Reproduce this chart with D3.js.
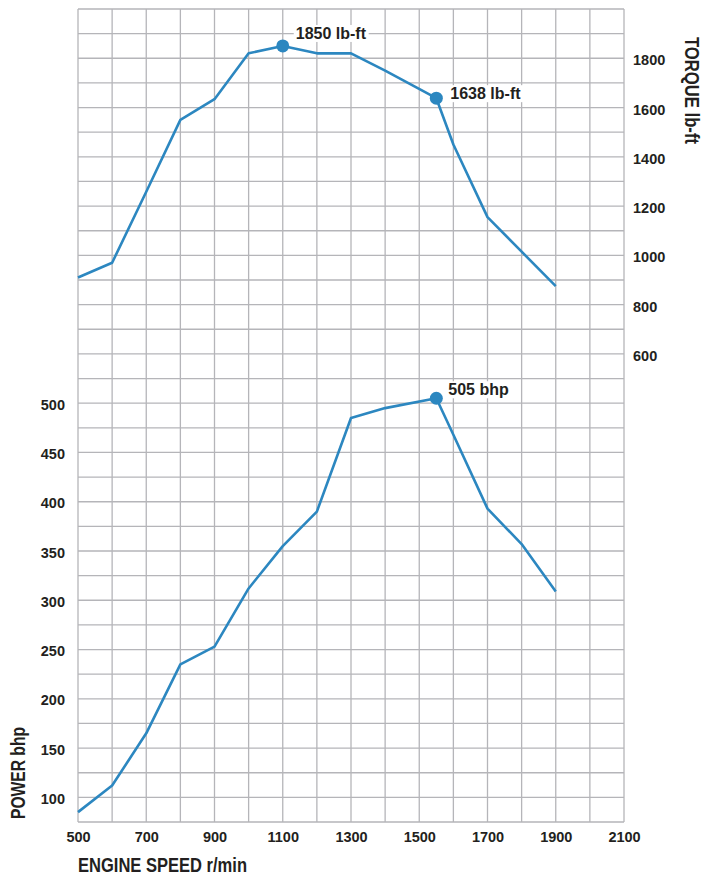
<!DOCTYPE html>
<html lang="en">
<head>
    <meta charset="UTF-8">
    <title>Engine torque and power curves</title>
    <script src="https://d3js.org/d3.v7.min.js"></script>
    <style>
        body { margin: 0; background: #fff; }
        svg text { font-family: "Liberation Sans", Arial, Helvetica, sans-serif; fill: #231f20; font-weight: bold; }
    </style>
</head>
<body>
    <script>
        // data
        const rpm    = [500, 600, 700, 800, 900, 1000, 1100, 1200, 1300, 1400, 1550, 1600, 1700, 1800, 1900];
        const torque = [910, 970, 1258, 1550, 1634, 1820, 1850, 1820, 1820, 1750, 1638, 1450, 1155, 1015, 875];
        const power  = [85, 112, 165, 235, 253, 312, 355, 390, 485, 495, 505, 468, 393, 357, 309];

        const rpmTicks    = [500, 700, 900, 1100, 1300, 1500, 1700, 1900, 2100];
        const torqueTicks = [600, 800, 1000, 1200, 1400, 1600, 1800];
        const powerTicks  = [100, 150, 200, 250, 300, 350, 400, 450, 500];

        const torquePeaks = [{ rpm: 1100, value: 1850, label: "1850 lb-ft" }, { rpm: 1550, value: 1638, label: "1638 lb-ft" }];
        const powerPeaks  = [{ rpm: 1550, value: 505, label: "505 bhp" }];

        const width = 703, height = 877;
        const plotL = 78, plotR = 624, plotT = 9, plotB = 822;
        const blue = "#2c87c0", gridColor = "#b5b5b9";

        const x = d3.scaleLinear().domain([500, 2100]).range([plotL, plotR]);
        // both y scales share the same grid: 100 lb-ft == 25 bhp per row
        const yT = d3.scaleLinear().domain([-1300, 2000]).range([plotB, plotT]);
        const yP = d3.scaleLinear().domain([75, 900]).range([plotB, plotT]);

        const svg = d3.select("body").append("svg")
            .attr("width", width)
            .attr("height", height);

        // grid
        const grid = svg.append("g")
            .attr("stroke", gridColor)
            .attr("stroke-width", 1.3);

        grid.selectAll(".v")
            .data(d3.range(500, 2101, 100))
            .enter().append("line")
            .attr("x1", d => x(d)).attr("x2", d => x(d))
            .attr("y1", plotT).attr("y2", plotB);

        grid.selectAll(".h")
            .data(d3.range(75, 901, 25))
            .enter().append("line")
            .attr("x1", plotL).attr("x2", plotR)
            .attr("y1", d => yP(d)).attr("y2", d => yP(d));

        // axes
        const fmt = d3.format("d");
        const xAxis = svg.append("g")
            .attr("transform", `translate(0,${plotB})`)
            .call(d3.axisBottom(x).tickValues(rpmTicks).tickFormat(fmt).tickSize(0).tickPadding(10));

        const torqueAxis = svg.append("g")
            .attr("transform", `translate(${plotR},0)`)
            .call(d3.axisRight(yT).tickValues(torqueTicks).tickFormat(fmt).tickSize(0).tickPadding(9));

        const powerAxis = svg.append("g")
            .attr("transform", `translate(${plotL},0)`)
            .call(d3.axisLeft(yP).tickValues(powerTicks).tickFormat(fmt).tickSize(0).tickPadding(13));

        [xAxis, torqueAxis, powerAxis].forEach(a => {
            a.select(".domain").remove();
            a.selectAll("text")
                .attr("fill", "#231f20")
                .style("font-size", "14.5px")
                .style("font-weight", "bold")
                .style("font-family", '"Liberation Sans", Arial, sans-serif');
        });
        powerAxis.selectAll("text").attr("dy", "0.42em");
        torqueAxis.selectAll("text").attr("dy", "0.45em");

        // lines
        const torqueLine = d3.line().x((d, i) => x(rpm[i])).y(d => yT(d));
        const powerLine = d3.line().x((d, i) => x(rpm[i])).y(d => yP(d));

        svg.append("path")
            .datum(torque)
            .attr("fill", "none")
            .attr("stroke", blue)
            .attr("stroke-width", 2.6)
            .attr("stroke-linejoin", "round")
            .attr("d", torqueLine);

        svg.append("path")
            .datum(power)
            .attr("fill", "none")
            .attr("stroke", blue)
            .attr("stroke-width", 2.6)
            .attr("stroke-linejoin", "round")
            .attr("d", powerLine);

        // peak markers with labels
        function peaks(list, y, offsets) {
            const g = svg.append("g");
            list.forEach((p, i) => {
                const cx = x(p.rpm), cy = y(p.value);
                const o = offsets[i];
                const t = g.append("text")
                    .attr("x", cx + o[0])
                    .attr("y", cy + o[1])
                    .style("font-size", "16px")
                    .text(p.label);
                const b = t.node().getBBox();
                g.insert("rect", "text")
                    .attr("x", b.x - 2).attr("y", b.y)
                    .attr("width", b.width + 4).attr("height", b.height)
                    .attr("fill", "#fff");
                g.append("circle")
                    .attr("cx", cx).attr("cy", cy)
                    .attr("r", 6.5)
                    .attr("fill", blue);
            });
        }
        peaks(torquePeaks, yT, [[13, -7], [14, 1]]);
        peaks(powerPeaks, yP, [[12, -3]]);

        // axis titles
        svg.append("text")
            .attr("x", plotL)
            .attr("y", 872)
            .attr("textLength", 169)
            .attr("lengthAdjust", "spacingAndGlyphs")
            .style("font-size", "19.5px")
            .text("ENGINE SPEED r/min");

        svg.append("text")
            .attr("transform", "translate(25,819) rotate(-90)")
            .attr("textLength", 92)
            .attr("lengthAdjust", "spacingAndGlyphs")
            .style("font-size", "20px")
            .text("POWER bhp");

        svg.append("text")
            .attr("transform", "translate(685,37) rotate(90)")
            .attr("textLength", 107)
            .attr("lengthAdjust", "spacingAndGlyphs")
            .style("font-size", "20px")
            .text("TORQUE lb-ft");
    </script>
</body>
</html>
